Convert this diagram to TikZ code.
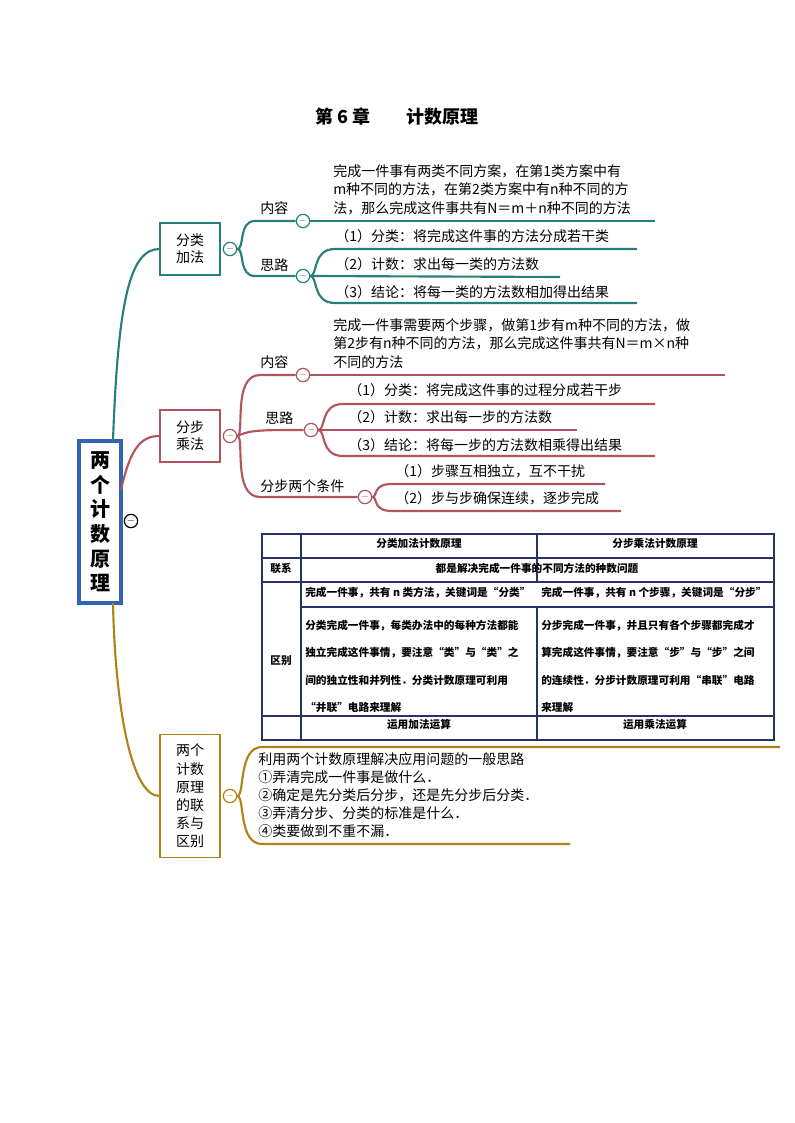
\documentclass[tikz,border=0pt]{standalone}
\usepackage{fontspec}
\setmainfont{Noto Sans CJK SC}
\usetikzlibrary{positioning}
\definecolor{teal1}{RGB}{38,128,120}
\definecolor{red1}{RGB}{176,84,94}
\definecolor{gold1}{RGB}{178,130,24}
\definecolor{navy1}{RGB}{40,50,100}
\definecolor{blue1}{RGB}{50,100,180}
\begin{document}
\begin{tikzpicture}[x=0.75pt,y=-0.75pt,
  mm/.style={circle,draw=#1,fill=white,line width=0.9pt,minimum size=10pt,inner sep=0pt,font=\scriptsize\bfseries,text=#1},
  box/.style={draw=#1,line width=0.9pt,fill=white,align=center,inner sep=0pt,font=\fontsize{10.5}{13}\selectfont},
  lbl/.style={anchor=base west,inner sep=0pt,font=\fontsize{10.5}{13}\selectfont},
  tx/.style={anchor=north west,inner sep=0pt,font=\fontsize{10.5}{14}\selectfont,align=left},
  br/.style={line width=1.6pt,draw=#1},
  tb/.style={font=\fontsize{8}{14}\selectfont\bfseries,inner sep=0pt}
]
\useasboundingbox (0,0) rectangle (794,1123);
\node[font=\fontsize{13.5}{16}\selectfont\bfseries] (title) at (397,117) {第 6 章\hspace{2em}计数原理};

% root
\node[draw=blue1,line width=2.4pt,minimum width=42*0.75pt,minimum height=162*0.75pt,inner sep=0pt,fill=white,
  font=\fontsize{15}{18.5}\selectfont\bfseries,align=center] (root) at (100,522) {两\\个\\计\\数\\原\\理};
\node[mm=black] (rootm) at (131,521) {$-$};

% ===== Branch 1 teal
\node[box=teal1,minimum width=60*0.75pt,minimum height=52*0.75pt] (b1) at (190,249) {分类\\加法};
\draw[br=teal1] (113,441) .. controls (118,300) and (130,249) .. (b1.west);
\node[mm=teal1] (b1m) at (230,249) {$-$};
\node[mm=teal1] (c1) at (303,221) {$-$};
\node[mm=teal1] (c2) at (303,276) {$-$};
\draw[br=teal1] (b1m.east) .. controls (245,249) and (238,221) .. (255,221) -- (c1.west);
\draw[br=teal1] (b1m.east) .. controls (245,249) and (238,276) .. (255,276) -- (c2.west);
\node[lbl] (nr1) at (260,214) {内容};
\node[lbl] (sl1) at (260,270) {思路};
\coordinate (e1) at (655,221);
\draw[br=teal1] (c1.east) -- (e1);
\node[tx] (t1) at (333,164) {完成一件事有两类不同方案，在第1类方案中有\\m种不同的方法，在第2类方案中有n种不同的方\\法，那么完成这件事共有N＝m＋n种不同的方法};
\coordinate (e11) at (637,249);
\coordinate (e12) at (560,277);
\coordinate (e13) at (637,303);
\draw[br=teal1] (c2.east) .. controls (318,276) and (312,249) .. (335,249) -- (e11);
\draw[br=teal1] (c2.east) -- (e12);
\draw[br=teal1] (c2.east) .. controls (318,276) and (312,303) .. (335,303) -- (e13);
\node[lbl] (s11) at (335,242) {（1）分类：将完成这件事的方法分成若干类};
\node[lbl] (s12) at (335,269) {（2）计数：求出每一类的方法数};
\node[lbl] (s13) at (335,297) {（3）结论：将每一类的方法数相加得出结果};

% ===== Branch 2 red
\node[box=red1,minimum width=60*0.75pt,minimum height=52*0.75pt] (b2) at (190,436) {分步\\乘法};
\draw[br=red1] (121,490) .. controls (130,450) and (140,436) .. (b2.west);
\node[mm=red1] (b2m) at (230,436) {$-$};
\node[mm=red1] (d1) at (303,375) {$-$};
\node[mm=red1] (d2) at (311,430) {$-$};
\node[mm=red1] (d3) at (365,497) {$-$};
\draw[br=red1] (b2m.east) .. controls (245,436) and (232,375) .. (260,375) -- (d1.west);
\draw[br=red1] (b2m.east) .. controls (250,430) and (260,430) .. (d2.west);
\draw[br=red1] (b2m.east) .. controls (245,436) and (232,497) .. (260,497) -- (d3.west);
\node[lbl] (nr2) at (260,367) {内容};
\node[lbl] (sl2) at (265,423) {思路};
\node[lbl] (tj2) at (260,491) {分步两个条件};
\coordinate (e2) at (725,375);
\draw[br=red1] (d1.east) -- (e2);
\node[tx] (t2) at (333,318) {完成一件事需要两个步骤，做第1步有m种不同的方法，做\\第2步有n种不同的方法，那么完成这件事共有N＝m×n种\\不同的方法};
\coordinate (e21) at (655,404);
\coordinate (e22) at (577,430);
\coordinate (e23) at (655,456);
\draw[br=red1] (d2.east) .. controls (326,430) and (320,404) .. (343,404) -- (e21);
\draw[br=red1] (d2.east) -- (e22);
\draw[br=red1] (d2.east) .. controls (326,430) and (320,456) .. (343,456) -- (e23);
\node[lbl] (s21) at (348,395) {（1）分类：将完成这件事的过程分成若干步};
\node[lbl] (s22) at (348,422) {（2）计数：求出每一步的方法数};
\node[lbl] (s23) at (348,450) {（3）结论：将每一步的方法数相乘得出结果};
\coordinate (e31) at (605,484);
\coordinate (e32) at (621,511);
\draw[br=red1] (d3.east) .. controls (378,497) and (372,484) .. (392,484) -- (e31);
\draw[br=red1] (d3.east) .. controls (378,497) and (372,511) .. (392,511) -- (e32);
\node[lbl] (s31) at (395,476) {（1）步骤互相独立，互不干扰};
\node[lbl] (s32) at (395,503) {（2）步与步确保连续，逐步完成};

% ===== Table
\begin{scope}[draw=navy1,line width=0.8pt]
\draw (262,534) rectangle (774,740);
\foreach \y in {558,582,716} \draw (262,\y) -- (774,\y);
\draw (301,607) -- (774,607);
\draw (301,534) -- (301,740);
\draw (537,534) -- (537,582);
\draw (537,607) -- (537,740);
\end{scope}
\node[tb] (h1) at (419,543) {分类加法计数原理};
\node[tb] (h2) at (655,543) {分步乘法计数原理};
\node[tb] (lx) at (281,568) {联系};
\node[tb] (lxc) at (537,568) {都是解决完成一件事的不同方法的种数问题};
\node[tb] (qb) at (281,661) {区别};
\node[tb,anchor=west] (a1) at (305,593) {完成一件事，共有 \textit{n} 类方法，关键词是“分类”};
\node[tb,anchor=west] (a2) at (541,593) {完成一件事，共有 \textit{n} 个步骤，关键词是“分步”};
\node[tb,anchor=north west,align=left,font=\fontsize{8}{20.5}\selectfont\bfseries] (b1t) at (305,620) {分类完成一件事，每类办法中的每种方法都能\\独立完成这件事情，要注意“类”与“类”之\\间的独立性和并列性．分类计数原理可利用\\“并联”电路来理解};
\node[tb,anchor=north west,align=left,font=\fontsize{8}{20.5}\selectfont\bfseries] (b2t) at (541,620) {分步完成一件事，并且只有各个步骤都完成才\\算完成这件事情，要注意“步”与“步”之间\\的连续性．分步计数原理可利用“串联”电路\\来理解};
\node[tb] (c1t) at (419,724) {运用加法运算};
\node[tb] (c2t) at (655,724) {运用乘法运算};

% ===== Branch 3 gold
\node[box=gold1,minimum width=60*0.75pt,minimum height=123*0.75pt,font=\fontsize{10.5}{13.6}\selectfont] (b3) at (190,796) {两个\\计数\\原理\\的联\\系与\\区别};
\draw[br=gold1] (113,603) .. controls (115,700) and (130,796) .. (b3.west);
\node[mm=gold1] (b3m) at (230,796) {$-$};
\coordinate (e41) at (780,747);
\coordinate (e42) at (570,844);
\draw[br=gold1] (b3m.east) .. controls (245,796) and (238,747) .. (262,747) -- (e41);
\draw[br=gold1] (b3m.east) .. controls (245,796) and (238,844) .. (262,844) -- (e42);
\node[tx,font=\fontsize{10.5}{13.6}\selectfont] (t3) at (258,752) {利用两个计数原理解决应用问题的一般思路\\①弄清完成一件事是做什么．\\②确定是先分类后分步，还是先分步后分类．\\③弄清分步、分类的标准是什么．\\④类要做到不重不漏．};
\end{tikzpicture}
\end{document}
